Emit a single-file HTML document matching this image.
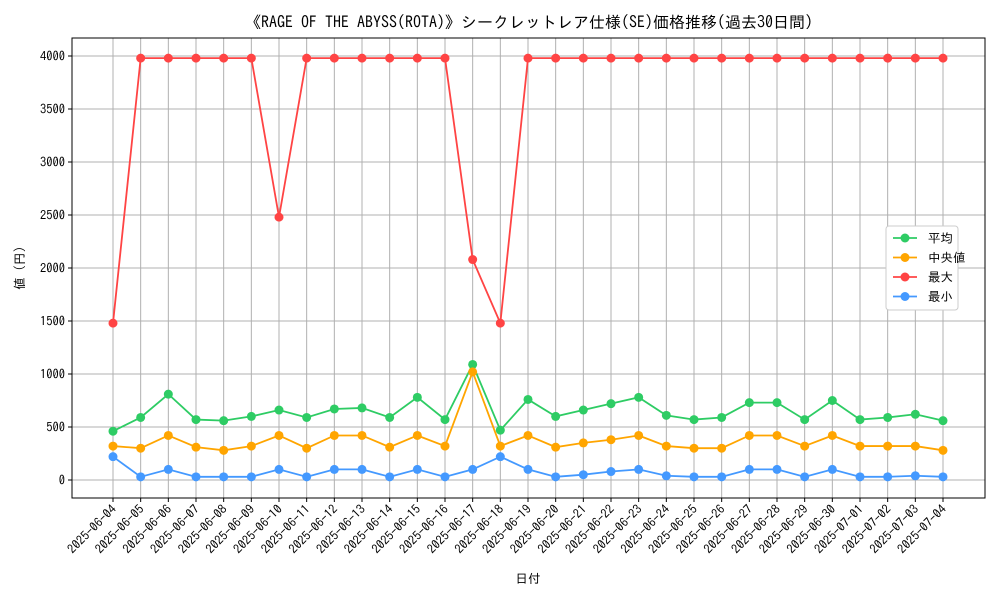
<!DOCTYPE html>
<html><head><meta charset="utf-8"><style>
body{margin:0;background:#fff;font-family:"IPAGothic","Liberation Sans",sans-serif;}
</style></head><body>
<svg id="chart" width="1000" height="600" xmlns="http://www.w3.org/2000/svg" font-family="IPAGothic,'Liberation Sans','Noto Sans CJK JP',sans-serif">
<text x="529" y="28" text-anchor="middle" font-size="16">《RAGE OF THE ABYSS(ROTA)》シークレットレア仕様(SE)価格推移(過去30日間)</text>
<g id="grid"></g><g id="axes"></g><g id="series"></g>
<text transform="translate(24,268) rotate(-90)" text-anchor="middle" font-size="12.5">値 (円)</text>
<text x="528" y="583" text-anchor="middle" font-size="12.5">日付</text>
<g id="legend"></g>
</svg>
<script>
const dates=["2025-06-04","2025-06-05","2025-06-06","2025-06-07","2025-06-08","2025-06-09","2025-06-10","2025-06-11","2025-06-12","2025-06-13","2025-06-14","2025-06-15","2025-06-16","2025-06-17","2025-06-18","2025-06-19","2025-06-20","2025-06-21","2025-06-22","2025-06-23","2025-06-24","2025-06-25","2025-06-26","2025-06-27","2025-06-28","2025-06-29","2025-06-30","2025-07-01","2025-07-02","2025-07-03","2025-07-04"];
const avgVals=[460,590,810,570,560,600,660,590,670,680,590,780,570,1090,470,760,600,660,720,780,610,570,590,730,730,570,750,570,590,620,560];
const medVals=[320,300,420,310,280,320,420,300,420,420,310,420,320,1020,320,420,310,350,380,420,320,300,300,420,420,320,420,320,320,320,280];
const maxVals=[1480,3980,3980,3980,3980,3980,2480,3980,3980,3980,3980,3980,3980,2080,1480,3980,3980,3980,3980,3980,3980,3980,3980,3980,3980,3980,3980,3980,3980,3980,3980];
const minVals=[220,30,100,30,30,30,100,30,100,100,30,100,30,100,220,100,30,50,80,100,40,30,30,100,100,30,100,30,30,40,30];
const yTicks=[0,500,1000,1500,2000,2500,3000,3500,4000];
const NS="http://www.w3.org/2000/svg";
const L=72,R=985,T=38,B=498;
const xs=i=>113+i*(943-113)/(dates.length-1);
const ys=v=>480-v*(480-56)/4000;
function mk(tag,attrs,parent){const e=document.createElementNS(NS,tag);for(const k in attrs)e.setAttribute(k,attrs[k]);parent.appendChild(e);return e;}
const grid=document.getElementById('grid'),axes=document.getElementById('axes'),ser=document.getElementById('series');
dates.forEach((d,i)=>{
 const g=mk('line',{x1:xs(i),x2:xs(i),y1:T,y2:B,stroke:'#b0b0b0','stroke-width':1},grid);
 
 
 mk('line',{x1:xs(i),x2:xs(i),y1:B,y2:B+4,stroke:'#000'},axes);
 const t=mk('text',{x:xs(i)+4,y:B+12,'text-anchor':'end','font-size':12.5,transform:`rotate(-45 ${xs(i)+4} ${B+12})`},axes);
 
 
 t.textContent=d;
});
yTicks.forEach(v=>{
 const g=mk('line',{x1:L,x2:R,y1:ys(v),y2:ys(v),stroke:'#b0b0b0','stroke-width':1},grid);
 
 
 mk('line',{x1:L-4,x2:L,y1:ys(v),y2:ys(v),stroke:'#000'},axes);
 const t=mk('text',{x:L-7,y:ys(v)+4.5,'text-anchor':'end','font-size':12.5},axes);
 
 
 t.textContent=v;
});
const fr=mk('rect',{x:L,y:T,width:R-L,height:B-T,fill:'none',stroke:'#000','stroke-width':1},axes);


const series=[["平均",avgVals,"#2ecc64","avg"],["中央値",medVals,"#ffa500","median"],["最大",maxVals,"#ff4444","max"],["最小",minVals,"#4499ff","min"]];
series.forEach(([name,vals,col,key])=>{
 const p=mk('polyline',{points:vals.map((v,i)=>xs(i)+','+ys(v)).join(' '),fill:'none',stroke:col,'stroke-width':1.8},ser);
 
 
 vals.forEach((v,i)=>{const c=mk('circle',{cx:xs(i),cy:ys(v),r:4.5,fill:col},ser);
  
  });
});
const lg=document.getElementById('legend');
mk('rect',{x:886,y:226,width:72,height:84,fill:'#fff',stroke:'#ccc',rx:3},lg);
series.forEach(([name,vals,col,key],k)=>{
 const y=238+k*19.5;
 mk('line',{x1:893,x2:917,y1:y,y2:y,stroke:col,'stroke-width':1.8},lg);
 mk('circle',{cx:905,cy:y,r:4.5,fill:col},lg);
 const t=mk('text',{x:928,y:y+4.5,'font-size':12.5},lg);
 
 
 t.textContent=name;
});
</script>
</body></html>
